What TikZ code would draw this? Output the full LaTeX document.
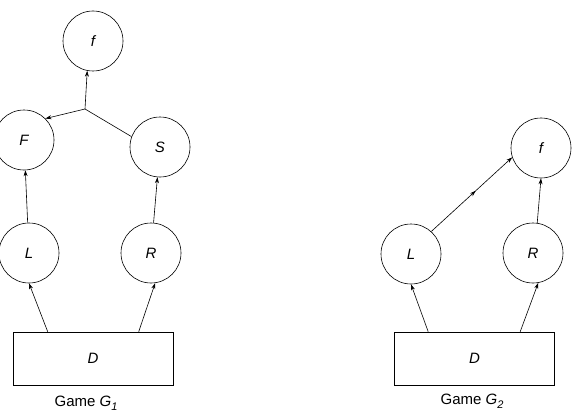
\documentclass[tikz,border=0pt]{standalone}
\usepackage{fontspec}
\setmainfont{Liberation Sans}
\usepackage{tikz}
\usetikzlibrary{arrows.meta, positioning, calc, decorations.markings}
\newcommand{\lblfont}{\fontsize{15}{18}\selectfont}
\newcommand{\gsub}[1]{\raisebox{-4pt}{\fontsize{11}{12}\selectfont\textit{#1}}}
\tikzset{
	player/.style  ={circle, draw=black, line width=0.6pt, minimum size=60pt, inner sep=0pt, font=\lblfont\itshape},
	dealer/.style  ={rectangle, draw=black, line width=0.6pt, minimum width=160pt, minimum height=53pt, font=\lblfont\itshape},
	sig/.style     ={-{Stealth[length=6pt, width=4pt]}, line width=0.6pt},
	plain/.style   ={line width=0.6pt},
	midsig/.style  ={sig, decoration={markings, mark=at position 0.55 with {\arrow{Stealth[length=6pt, width=4pt]}}}, postaction={decorate}},
}
\begin{document}
\begin{tikzpicture}[x=1pt, y=-1pt, font=\lblfont]
	\useasboundingbox (0,0) rectangle (576,420);
	% game G1
	\node[player] (f1) at (93,41) {f};
	\node[player] (F1) at (24,140) {F};
	\node[player] (S1) at (160,147) {S};
	\node[player] (L1) at (29,253) {L};
	\node[player] (R1) at (151,253) {R};
	\node[dealer] (D1) at (93,358.5) {D};
	\node (g1) at (86,403) {Game \textit{G}\gsub{1}};
	\coordinate (jn) at (85,109);
	\draw[sig] (jn) -- (f1.259);
	\draw[sig] (jn) -- (F1.45);
	\draw[plain] (S1.160) -- (jn);
	\draw[sig] (L1) -- (F1);
	\draw[sig] (R1) -- (S1);
	\draw[sig] ([xshift=35pt]D1.north west) -- (L1.south);
	\draw[sig] ([xshift=126pt]D1.north west) -- (R1.-82);
	% game G2
	\node[player] (f2) at (541,148) {f};
	\node[player] (L2) at (411,254) {L};
	\node[player] (R2) at (533,253) {R};
	\node[dealer] (D2) at (474.5,358.5) {D};
	\node (g2) at (472,401) {Game \textit{G}\gsub{2}};
	\draw[midsig] (L2.48) -- (f2.198);
	\draw[sig] (R2.82) -- (f2.south);
	\draw[sig] ([xshift=34pt]D2.north west) -- (L2.south);
	\draw[sig] ([xshift=126pt]D2.north west) -- (R2.-80);
\end{tikzpicture}
\end{document}
